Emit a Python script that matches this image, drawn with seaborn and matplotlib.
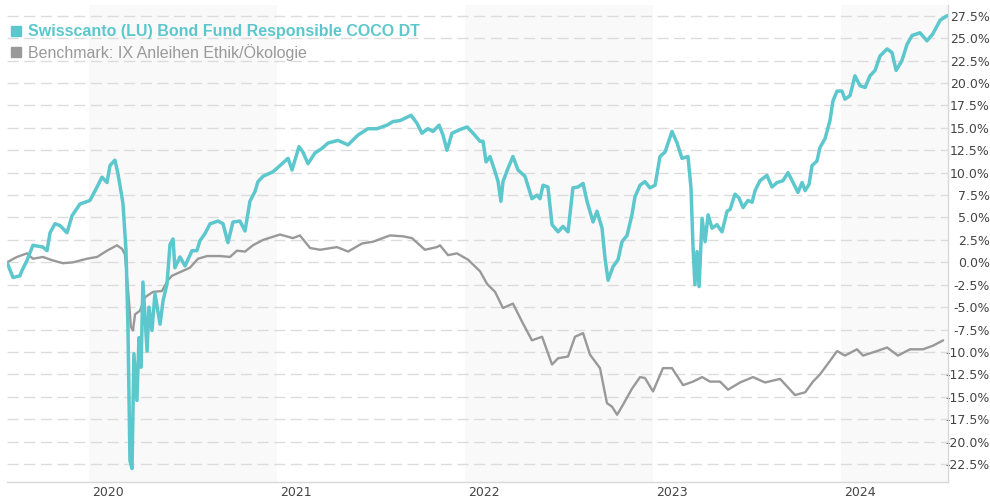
import matplotlib
matplotlib.use("Agg")
import matplotlib.pyplot as plt
import seaborn as sns
from matplotlib.lines import Line2D
from matplotlib.ticker import FuncFormatter

# Werte (Zeit in Dezimaljahren, Wertentwicklung in %)
fund_t = [2019.564, 2019.596, 2019.633, 2019.644, 2019.670, 2019.702, 2019.755, 2019.777,
          2019.793, 2019.819, 2019.846, 2019.883, 2019.910, 2019.952, 2020.005, 2020.043,
          2020.069, 2020.096, 2020.112, 2020.138, 2020.154, 2020.176, 2020.181, 2020.197,
          2020.207, 2020.218, 2020.229, 2020.239, 2020.255, 2020.266, 2020.277, 2020.287,
          2020.309, 2020.319, 2020.335, 2020.351, 2020.378, 2020.394, 2020.415, 2020.431,
          2020.447, 2020.457, 2020.484, 2020.511, 2020.548, 2020.574, 2020.590, 2020.617,
          2020.644, 2020.686, 2020.713, 2020.739, 2020.766, 2020.803, 2020.830, 2020.856,
          2020.883, 2020.899, 2020.926, 2020.979, 2021.027, 2021.059, 2021.080, 2021.117,
          2021.138, 2021.165, 2021.202, 2021.239, 2021.271, 2021.324, 2021.378, 2021.431,
          2021.484, 2021.532, 2021.585, 2021.617, 2021.654, 2021.713, 2021.745, 2021.771,
          2021.803, 2021.830, 2021.862, 2021.883, 2021.904, 2021.931, 2021.973, 2022.011,
          2022.043, 2022.080, 2022.096, 2022.112, 2022.133, 2022.160, 2022.176, 2022.191,
          2022.202, 2022.229, 2022.255, 2022.282, 2022.319, 2022.356, 2022.383, 2022.399,
          2022.415, 2022.441, 2022.463, 2022.495, 2022.521, 2022.548, 2022.574, 2022.601,
          2022.628, 2022.649, 2022.681, 2022.702, 2022.729, 2022.745, 2022.761, 2022.787,
          2022.814, 2022.835, 2022.862, 2022.888, 2022.904, 2022.931, 2022.957, 2022.984,
          2023.011, 2023.037, 2023.064, 2023.080, 2023.101, 2023.128, 2023.154, 2023.186,
          2023.202, 2023.213, 2023.223, 2023.234, 2023.245, 2023.261, 2023.277, 2023.293,
          2023.314, 2023.340, 2023.367, 2023.394, 2023.410, 2023.436, 2023.457, 2023.479,
          2023.505, 2023.527, 2023.543, 2023.569, 2023.606, 2023.633, 2023.660, 2023.691,
          2023.718, 2023.745, 2023.771, 2023.793, 2023.809, 2023.830, 2023.846, 2023.872,
          2023.888, 2023.915, 2023.941, 2023.957, 2023.979, 2024.005, 2024.021, 2024.048,
          2024.074, 2024.101, 2024.128, 2024.154, 2024.181, 2024.207, 2024.245, 2024.271,
          2024.293, 2024.324, 2024.351, 2024.378, 2024.420, 2024.457, 2024.489, 2024.527,
          2024.564]
fund_v = [0.0, -1.7, -1.5, -0.9, 0.2, 1.9, 1.7, 1.3,
          3.3, 4.3, 4.1, 3.3, 5.2, 6.5, 6.9, 8.4,
          9.5, 8.9, 10.8, 11.4, 9.9, 7.2, 6.5, 1.3,
          -6.9, -22.1, -23.0, -10.2, -15.4, -8.4, -11.7, -2.2,
          -9.9, -5.0, -7.6, -3.5, -6.9, -4.3, -2.4, 2.0,
          2.6, -0.6, 0.6, -0.4, 1.3, 1.3, 2.4, 3.2,
          4.3, 4.6, 4.3, 2.2, 4.5, 4.6, 3.5, 6.8,
          7.9, 9.0, 9.6, 10.1, 11.0, 11.6, 10.3, 12.9,
          12.3, 11.0, 12.2, 12.7, 13.3, 13.6, 13.1, 14.2,
          14.9, 14.9, 15.3, 15.7, 15.8, 16.4, 15.5, 14.4,
          14.9, 14.6, 15.3, 14.2, 12.5, 14.4, 14.8, 15.1,
          14.4, 13.5, 13.5, 11.2, 11.8, 10.1, 9.0, 6.8,
          9.0, 10.5, 11.8, 10.3, 9.6, 7.1, 7.5, 7.1,
          8.6, 8.4, 4.2, 3.4, 4.0, 3.4, 8.3, 8.4,
          8.8, 6.8, 4.5, 5.7, 3.8, 0.4, -2.0, -0.5,
          0.3, 2.3, 3.0, 5.3, 7.3, 8.6, 9.0, 8.3,
          8.6, 11.8, 12.3, 13.3, 14.6, 13.3, 11.6, 11.8,
          8.3, 1.6, -2.5, 1.2, -2.7, 4.9, 2.3, 5.3,
          3.8, 4.2, 3.4, 5.7, 5.9, 7.6, 7.2, 6.1,
          6.9, 6.7, 8.0, 9.1, 9.7, 8.4, 8.9, 9.1,
          10.0, 8.9, 7.8, 8.9, 8.0, 8.7, 10.8, 11.3,
          12.8, 13.8, 15.8, 18.0, 19.1, 19.1, 18.2, 18.6,
          20.8, 19.7, 19.5, 20.8, 21.4, 23.0, 23.8, 23.4,
          21.4, 22.5, 24.3, 25.3, 25.6, 24.7, 25.5, 27.0,
          27.5]

bench_t = [2019.564, 2019.617, 2019.670, 2019.702, 2019.755, 2019.809, 2019.862, 2019.915,
           2019.989, 2020.043, 2020.096, 2020.149, 2020.176, 2020.191, 2020.207, 2020.223,
           2020.234, 2020.245, 2020.271, 2020.298, 2020.340, 2020.388, 2020.420, 2020.441,
           2020.484, 2020.537, 2020.580, 2020.628, 2020.697, 2020.750, 2020.787, 2020.830,
           2020.872, 2020.926, 2021.016, 2021.085, 2021.122, 2021.176, 2021.229, 2021.319,
           2021.378, 2021.452, 2021.511, 2021.601, 2021.670, 2021.718, 2021.787, 2021.851,
           2021.867, 2021.910, 2021.957, 2022.016, 2022.080, 2022.117, 2022.160, 2022.202,
           2022.255, 2022.303, 2022.356, 2022.410, 2022.463, 2022.495, 2022.548, 2022.585,
           2022.628, 2022.665, 2022.718, 2022.755, 2022.782, 2022.809, 2022.840, 2022.888,
           2022.931, 2022.957, 2023.000, 2023.053, 2023.101, 2023.160, 2023.213, 2023.261,
           2023.303, 2023.356, 2023.399, 2023.463, 2023.532, 2023.596, 2023.676, 2023.755,
           2023.809, 2023.851, 2023.888, 2023.941, 2023.979, 2024.021, 2024.085, 2024.117,
           2024.191, 2024.245, 2024.303, 2024.367, 2024.436, 2024.489, 2024.543]
bench_v = [0.0, 0.6, 1.0, 0.4, 0.6, 0.2, -0.1, 0.0,
           0.4, 0.6, 1.3, 1.9, 1.5, 0.9, -2.8, -7.2,
           -7.6, -5.8, -5.4, -3.9, -3.3, -3.2, -2.0, -1.5,
           -1.1, -0.6, 0.4, 0.7, 0.7, 0.6, 1.3, 1.2,
           1.9, 2.5, 3.1, 2.7, 3.0, 1.6, 1.4, 1.7,
           1.2, 2.1, 2.3, 3.0, 2.9, 2.7, 1.4, 1.7,
           1.9, 0.8, 1.0, 0.3, -1.0, -2.4, -3.3, -5.1,
           -4.6, -6.6, -8.7, -8.3, -11.4, -10.7, -10.5, -8.3,
           -7.9, -10.3, -11.8, -15.7, -16.1, -17.0, -15.9, -14.1,
           -12.8, -12.9, -14.4, -11.8, -11.8, -13.7, -13.3, -12.8,
           -13.3, -13.3, -14.2, -13.4, -12.8, -13.4, -13.0, -14.8,
           -14.5, -13.3, -12.5, -11.0, -9.9, -10.4, -9.7, -10.4,
           -9.9, -9.5, -10.4, -9.7, -9.7, -9.3, -8.7]

years = [2020, 2021, 2022, 2023, 2024]
shaded_years = [2020, 2022, 2024]
fund_name = "Swisscanto (LU) Bond Fund Responsible COCO DT"
bench_name = "Benchmark: IX Anleihen Ethik/Ökologie"

teal = "#5cc7cd"
grey = "#999999"

sns.set_style("white")
plt.rcParams["font.family"] = ["DejaVu Sans"]

fig = plt.figure(figsize=(9.9, 5.0), dpi=100)
ax = fig.add_axes([7 / 990, 18 / 500, 941 / 990, 477 / 500])

x_lo, x_hi = 2019.564, 2024.569
for y in shaded_years:
    ax.axvspan(y, min(y + 1, x_hi), color="#f9f9f9", lw=0, zorder=0)

yticks = [-22.5 + 2.5 * i for i in range(21)]
for yt in yticks:
    ax.axhline(yt, color="#dcdcdc", lw=1, ls=(0, (8, 4)), zorder=1)

sns.lineplot(x=bench_t, y=bench_v, ax=ax, color=grey, lw=1.7, zorder=3)
sns.lineplot(x=fund_t, y=fund_v, ax=ax, color=teal, lw=2.5, zorder=4)

ax.set_xlim(x_lo, x_hi)
ax.set_ylim(-24.5, 28.7)

ax.yaxis.tick_right()
ax.set_yticks(yticks)
ax.yaxis.set_major_formatter(FuncFormatter(lambda v, p: f"{v:.1f}%"))
ax.tick_params(axis="y", length=0, pad=30, labelsize=9, labelcolor="#444444")
for lab in ax.get_yticklabels():
    lab.set_horizontalalignment("right")

ax.set_xticks([y + 0.1 for y in years])
ax.set_xticklabels([str(y) for y in years])
ax.tick_params(axis="x", length=0, pad=3, labelsize=9, labelcolor="#444444")

for side in ["top", "left"]:
    ax.spines[side].set_visible(False)
for side in ["bottom", "right"]:
    ax.spines[side].set_color("#d8d8d8")
    ax.spines[side].set_linewidth(1)
ax.set_xlabel("")
ax.set_ylabel("")

handles = [Line2D([], [], marker="s", ls="", color=teal, markersize=7),
           Line2D([], [], marker="s", ls="", color=grey, markersize=7)]
leg = ax.legend(handles, [fund_name, bench_name], loc="upper left",
                bbox_to_anchor=(-0.0095, 0.983), frameon=False, handlelength=0.8,
                handletextpad=0.4, borderpad=0.2, labelspacing=0.3,
                prop={"family": "Liberation Sans", "size": 11.5})
leg.get_texts()[0].set_color(teal)
leg.get_texts()[0].set_fontweight("bold")
leg.get_texts()[1].set_color(grey)

fig.savefig("out.png", dpi=100)
